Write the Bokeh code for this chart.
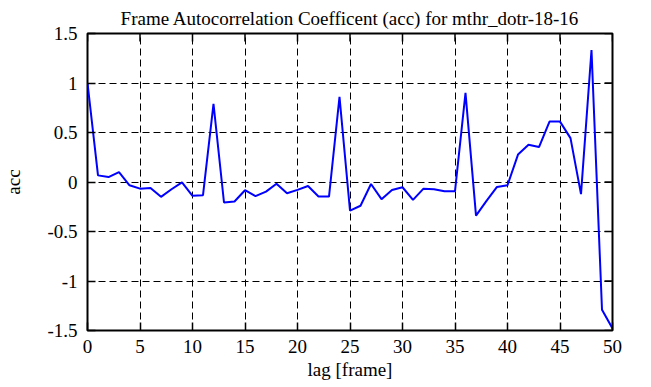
import math
from bokeh.plotting import figure
from bokeh.models import Range1d, FixedTicker
from bokeh.embed import file_html
from bokeh.resources import INLINE

lag = list(range(51))
acc = [1.0, 0.067, 0.05, 0.1, -0.033, -0.067, -0.06, -0.15, -0.073, -0.003,
       -0.14, -0.133, 0.79, -0.207, -0.197, -0.083, -0.143, -0.097, -0.017, -0.113,
       -0.08, -0.04, -0.147, -0.147, 0.86, -0.29, -0.24, -0.02, -0.173, -0.08,
       -0.053, -0.18, -0.067, -0.073, -0.093, -0.093, 0.9, -0.34, -0.19, -0.05,
       -0.033, 0.277, 0.377, 0.353, 0.61, 0.61, 0.443, -0.123, 1.333, -1.29,
       -1.48]
xticks = [0, 5, 10, 15, 20, 25, 30, 35, 40, 45, 50]
yticks = [-1.5, -1, -0.5, 0, 0.5, 1, 1.5]
ytick_labels = {-1.5: "-1.5", -1: "-1", -0.5: "-0.5", 0: "0", 0.5: "0.5", 1: "1", 1.5: "1.5"}
title_text = "Frame Autocorrelation Coefficent (acc) for mthr_dotr-18-16"

FONT = "Liberation Serif"
FS = "19px"

p = figure(width=651, height=387, output_backend="svg", toolbar_location=None,
           x_range=Range1d(xticks[0], xticks[-1]), y_range=Range1d(yticks[0], yticks[-1]),
           min_border_left=86, min_border_right=39, min_border_top=32, min_border_bottom=57,
           title=title_text)

p.title.align = "center"
p.title.text_font = FONT
p.title.text_font_size = FS
p.title.text_font_style = "normal"
p.title.text_color = "black"
p.title.standoff = 10

p.outline_line_color = "black"
p.outline_line_width = 2
p.outline_line_alpha = 1.0

p.xgrid.ticker = FixedTicker(ticks=xticks)
p.ygrid.ticker = FixedTicker(ticks=yticks)
p.grid.grid_line_color = "black"
p.grid.grid_line_dash = "7 4"
p.grid.grid_line_width = 1
p.grid.grid_line_alpha = 1.0

p.line(lag, acc, line_color="#0000ff", line_width=2)

# inward ticks on the top and right edges (clipped to the frame)
p.scatter(xticks, [yticks[-1]] * len(xticks), marker="dash", angle=math.pi / 2,
          size=16, line_color="black", line_width=1.5)
p.scatter([xticks[-1]] * len(yticks), yticks, marker="dash", angle=0,
          size=16, line_color="black", line_width=1.5)

p.xaxis.ticker = FixedTicker(ticks=xticks)
p.yaxis.ticker = FixedTicker(ticks=yticks)
p.yaxis.major_label_overrides = ytick_labels
p.xaxis.axis_label = "lag [frame]"
p.yaxis.axis_label = "acc"

p.axis.axis_line_color = None
p.axis.major_tick_in = 8
p.axis.major_tick_out = 0
p.axis.major_tick_line_color = "black"
p.axis.major_tick_line_width = 1.5
p.axis.minor_tick_line_color = None
p.axis.major_label_text_font = FONT
p.axis.major_label_text_font_size = FS
p.axis.major_label_text_font_style = "normal"
p.axis.major_label_text_color = "black"
p.axis.axis_label_text_font = FONT
p.axis.axis_label_text_font_size = FS
p.axis.axis_label_text_font_style = "normal"
p.axis.axis_label_text_color = "black"

p.xaxis.major_label_standoff = 9
p.yaxis.major_label_standoff = 10
p.xaxis.axis_label_standoff = 3
p.yaxis.axis_label_standoff = 20

open("out.html", "w").write(file_html(p, INLINE))
